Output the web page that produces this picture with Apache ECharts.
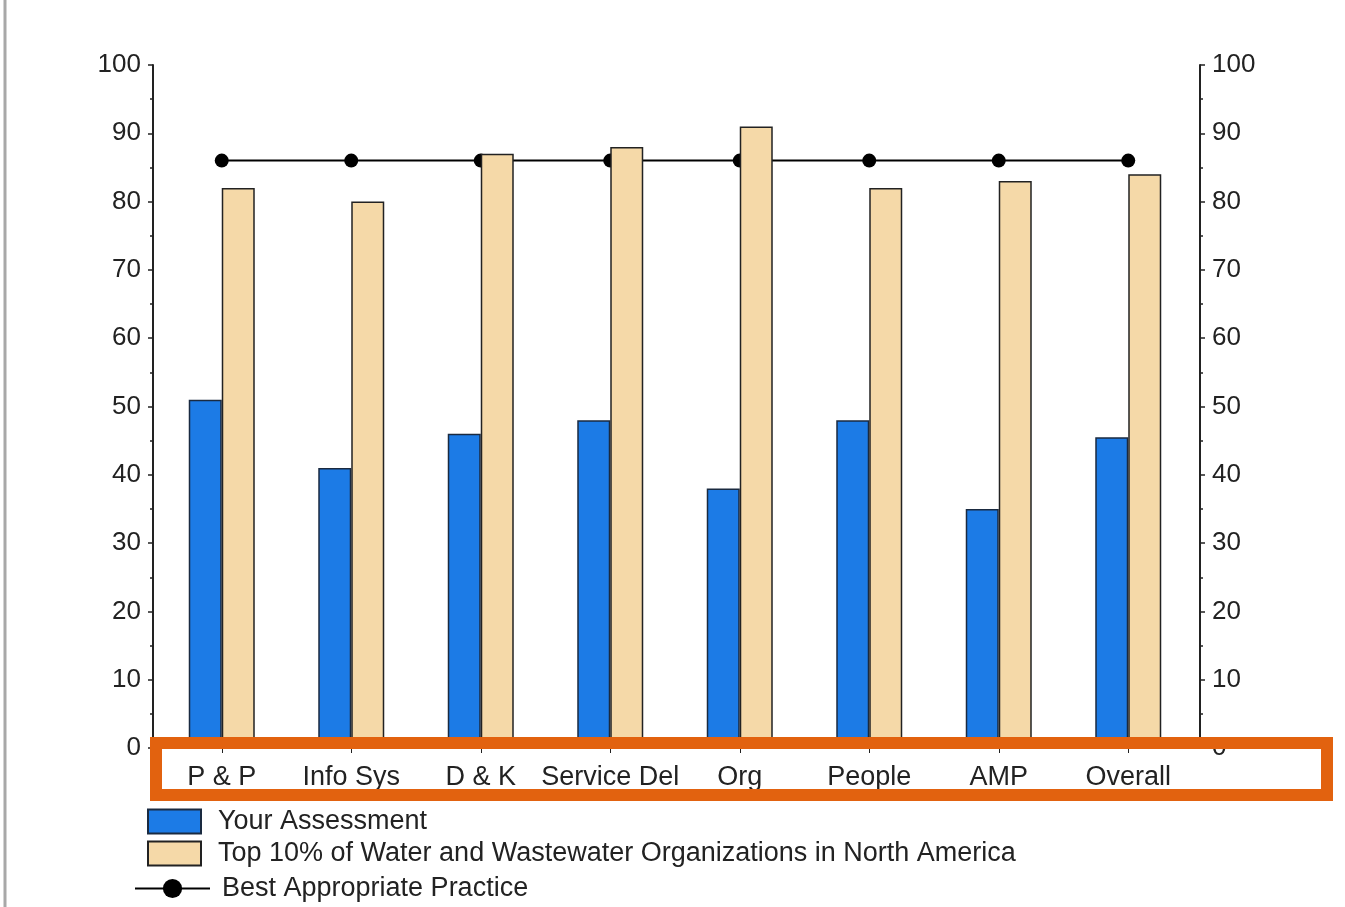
<!DOCTYPE html>
<html>
<head>
<meta charset="utf-8">
<script src="https://cdn.jsdelivr.net/npm/echarts@6/dist/echarts.min.js"></script>
<style>
html,body{margin:0;padding:0;background:#fff;}
#chart{width:1345px;height:907px;}
</style>
</head>
<body>
<div id="chart"></div>
<script>
const categories = ['P & P', 'Info Sys', 'D & K', 'Service Del', 'Org', 'People', 'AMP', 'Overall'];
const yourAssessment = [51, 41, 46, 48, 38, 48, 35, 45.5];
const top10 = [82, 80, 87, 88, 91, 82, 83, 84];
const bestPractice = [86, 86, 86, 86, 86, 86, 86, 86];
const seriesNames = ['Your Assessment', 'Top 10% of Water and Wastewater Organizations in North America', 'Best Appropriate Practice'];

const FONT = '"Liberation Sans", Arial, sans-serif';
const TXT = '#222';

const chart = echarts.init(document.getElementById('chart'));
const yAxisCommon = {
  type: 'value', min: 0, max: 100, interval: 10,
  axisLine: { show: true, lineStyle: { color: '#222', width: 2 } },
  axisTick: { show: true, length: 5, lineStyle: { color: '#222', width: 1.5 } },
  minorTick: { show: true, splitNumber: 2, length: 3, lineStyle: { color: '#222', width: 1.5 } },
  splitLine: { show: false },
  axisLabel: { fontFamily: FONT, fontSize: 26, color: TXT, margin: 12 }
};
chart.setOption({
  animation: false,
  backgroundColor: '#ffffff',
  grid: { left: 157, right: 152, top: 65, bottom: 159 },
  xAxis: {
    type: 'category', data: categories,
    axisLine: { show: true, lineStyle: { color: '#222', width: 2 } },
    axisTick: { show: true, alignWithLabel: true, length: 5, lineStyle: { color: '#222' } },
    axisLabel: { fontFamily: FONT, fontSize: 27, color: TXT, margin: 16, interval: 0 }
  },
  yAxis: [
    Object.assign({}, yAxisCommon, { position: 'left', offset: 4 }),
    Object.assign({}, yAxisCommon, { position: 'right', offset: 7 })
  ],
  legend: [
    {
      data: [{ name: seriesNames[0], icon: 'rect' }, { name: seriesNames[1], icon: 'rect' }],
      orient: 'vertical', left: 142, top: 803,
      itemWidth: 53, itemHeight: 24, itemGap: 5,
      textStyle: { fontFamily: FONT, fontSize: 27, lineHeight: 24, color: TXT, padding: [0, 0, 0, 12] }
    },
    {
      data: [seriesNames[2]],
      orient: 'vertical', left: 129, top: 870,
      itemWidth: 75, itemHeight: 24,
      textStyle: { fontFamily: FONT, fontSize: 27, lineHeight: 24, color: TXT, padding: [0, 0, 0, 7] }
    }
  ],
  series: [
    {
      name: seriesNames[0], type: 'bar', data: yourAssessment, yAxisIndex: 0,
      barWidth: 33, barGap: '0%', z: 3,
      itemStyle: { color: '#1c7be6', borderColor: '#1a2a40', borderWidth: 1.5 }
    },
    {
      name: seriesNames[1], type: 'bar', data: top10, yAxisIndex: 0,
      barWidth: 33, barGap: '0%', z: 3,
      itemStyle: { color: '#f5d9a8', borderColor: '#222', borderWidth: 1.5 }
    },
    {
      name: seriesNames[2], type: 'line', data: bestPractice, yAxisIndex: 0, z: 1,
      symbol: 'circle', symbolSize: 14,
      lineStyle: { color: '#000', width: 2 },
      itemStyle: { color: '#000' }
    }
  ],
  graphic: [
    { type: 'rect', z: 100, shape: { x: 156, y: 743, width: 1171, height: 52 },
      style: { fill: 'none', stroke: '#e2620f', lineWidth: 12 } },
    { type: 'line', z: 100, shape: { x1: 5, y1: 0, x2: 5, y2: 907 },
      style: { stroke: '#a8a8a8', lineWidth: 3 } }
  ]
});
</script>
</body>
</html>
